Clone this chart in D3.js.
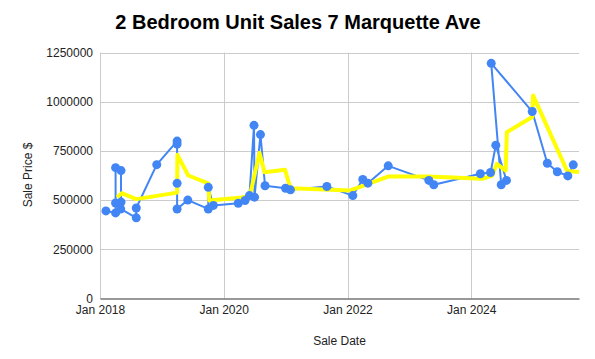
<!doctype html>
<html>
<head>
<meta charset="utf-8">
<script src="https://cdn.jsdelivr.net/npm/d3@7"></script>
<style>
  body { margin: 0; background: #fff; }
  svg { font-family: Arial, "Liberation Sans", sans-serif; }
</style>
</head>
<body>
<svg id="chart" width="595" height="359"></svg>
<script>
// sales, in the order the sheet draws them
var saleDates = ["2018-02-05","2018-04-03","2018-04-03","2018-04-03","2018-05-05","2018-05-05","2018-05-03",
  "2018-08-03","2018-08-03","2018-12-02","2019-04-01","2019-04-01","2019-04-01","2019-04-01","2019-06-03",
  "2019-10-02","2019-10-02","2019-11-01","2020-03-27","2020-05-06","2020-06-01","2020-06-28","2020-07-01",
  "2020-08-05","2020-09-01","2020-12-31","2021-01-29","2021-09-01","2022-02-01","2022-04-01","2022-05-01",
  "2022-08-29","2023-04-26","2023-05-25","2024-02-24","2024-04-24","2024-05-25","2024-07-27","2024-06-26",
  "2024-04-28","2024-12-26","2025-03-25","2025-05-23","2025-07-24","2025-08-25"];
var salePrices = [445000,435000,485000,665000,650000,490000,455000,
  410000,460000,680000,800000,785000,585000,455000,500000,
  455000,565000,473000,484000,498000,523000,880000,515000,
  833000,573000,560000,552000,569000,523000,605000,586000,
  674000,600000,578000,634000,640000,779000,600000,578000,
  1195000,950000,687000,644000,623000,679000];

// yellow trend line
var trendDates = ["2018-04-12","2018-05-09","2018-08-03","2019-04-01","2019-04-03","2019-06-06","2019-10-02",
  "2019-10-08","2020-04-16","2020-06-04","2020-07-30","2020-08-29","2020-12-28","2021-01-29","2022-01-18",
  "2022-09-01","2023-04-26","2024-03-06","2024-05-04","2024-05-31","2024-07-22","2024-07-29","2024-12-26",
  "2024-12-31","2025-07-20","2025-09-28"];
var trendValues = [515000,535000,505000,538000,730000,625000,585000,
  498000,513000,523000,740000,642000,654000,560000,549000,
  620000,620000,608000,625000,684000,650000,845000,922000,
  1032000,648000,643000];

var yTicks = [0,250000,500000,750000,1000000,1250000];
var xTicks = ["2018-01-01","2020-01-01","2022-01-01","2024-01-01"];

var parse = d3.timeParse("%Y-%m-%d");
var sales = saleDates.map(function(d, i) { return {date: parse(d), value: salePrices[i]}; });
var trend = trendDates.map(function(d, i) { return {date: parse(d), value: trendValues[i]}; });

var plotLeft = 100, plotRight = 579, plotTop = 52.5, plotBottom = 298.5;
var svg = d3.select("#chart");

var x = d3.scaleTime().domain([parse("2018-01-01"), parse("2025-09-28")]).range([plotLeft, plotRight]);
var y = d3.scaleLinear().domain([0, 1250000]).range([plotBottom, plotTop]);

// grid
svg.append("g").selectAll("line").data(yTicks.slice(1)).enter().append("line")
  .attr("x1", plotLeft).attr("x2", plotRight)
  .attr("y1", function(d) { return Math.round(y(d)) + 0.5; })
  .attr("y2", function(d) { return Math.round(y(d)) + 0.5; })
  .attr("stroke", "#cccccc");
svg.append("g").selectAll("line").data(xTicks).enter().append("line")
  .attr("x1", function(d) { return Math.round(x(parse(d))) + 0.5; })
  .attr("x2", function(d) { return Math.round(x(parse(d))) + 0.5; })
  .attr("y1", plotTop).attr("y2", plotBottom)
  .attr("stroke", "#cccccc");

// y axis
var yAxis = svg.append("g").attr("transform", "translate(" + plotLeft + ",0)")
  .call(d3.axisLeft(y).tickValues(yTicks).tickSize(0).tickPadding(7).tickFormat(d3.format("d")));
yAxis.select(".domain").attr("stroke", "#cccccc");
yAxis.selectAll("text").attr("font-size", 12).attr("fill", "#222").attr("font-family", "Arial, 'Liberation Sans', sans-serif");

// x axis
var xAxis = svg.append("g").attr("transform", "translate(0," + plotBottom + ")")
  .call(d3.axisBottom(x).tickValues(xTicks.map(parse)).tickSize(0).tickPadding(7).tickFormat(d3.timeFormat("Jan %Y")));
xAxis.select(".domain").attr("stroke", "#333333");
xAxis.selectAll("text").attr("font-size", 12).attr("fill", "#222").attr("font-family", "Arial, 'Liberation Sans', sans-serif");

var line = d3.line().x(function(d) { return x(d.date); }).y(function(d) { return y(d.value); });

svg.append("path").datum(sales).attr("d", line)
  .attr("fill", "none").attr("stroke", "#4285f4").attr("stroke-width", 2).attr("stroke-linejoin", "round");

svg.append("path").datum(trend).attr("d", line)
  .attr("fill", "none").attr("stroke", "#ffff00").attr("stroke-width", 4).attr("stroke-linejoin", "round");

svg.append("g").selectAll("circle").data(sales).enter().append("circle")
  .attr("cx", function(d) { return x(d.date); })
  .attr("cy", function(d) { return y(d.value); })
  .attr("r", 4.5).attr("fill", "#4285f4");

// titles
svg.append("text").attr("x", 298).attr("y", 29).attr("text-anchor", "middle")
  .attr("font-size", 20).attr("font-weight", "bold").attr("fill", "#000")
  .text("2 Bedroom Unit Sales 7 Marquette Ave");
svg.append("text").attr("x", 339.5).attr("y", 345).attr("text-anchor", "middle")
  .attr("font-size", 12).attr("fill", "#222").text("Sale Date");
svg.append("text").attr("transform", "translate(32,175) rotate(-90)").attr("text-anchor", "middle")
  .attr("font-size", 12).attr("fill", "#222").text("Sale Price $");
</script>
</body>
</html>
